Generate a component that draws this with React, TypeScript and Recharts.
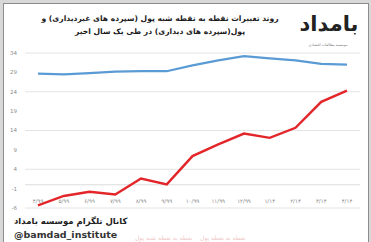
import { CartesianGrid, Line, LineChart, ReferenceLine, XAxis, YAxis } from "recharts";

// Months (Persian calendar), last 13 months
const months = [
  "۴/۹۹", "۵/۹۹", "۶/۹۹", "۷/۹۹", "۸/۹۹", "۹/۹۹", "۱۰/۹۹",
  "۱۱/۹۹", "۱۲/۹۹", "۱/۱۴", "۲/۱۴", "۳/۱۴", "۴/۱۴",
];
// point-to-point change, quasi-money (blue)
const quasiMoney = [28.7, 28.5, 28.8, 29.2, 29.3, 29.3, 30.8, 32.1, 33.2, 32.6, 32.1, 31.2, 31.0];
// point-to-point change, money (red)
const money = [-5.3, -2.9, -1.8, -2.5, 1.6, 0.1, 7.4, 10.4, 13.2, 12.1, 14.7, 21.4, 24.3];
const yTicks = [-6, -1, 4, 9, 14, 19, 24, 29, 34];

const data = months.map((m, i) => ({ month: m, quasi: quasiMoney[i], money: money[i] }));

const FA = "'DejaVu Sans', sans-serif";

function MonthTick(props: any) {
  const { x, y, payload } = props;
  return (
    <text x={x} y={y - 13} textAnchor="middle" fontSize={5.5} fill="#8a8a8a" fontFamily={FA}>
      {payload.value}
    </text>
  );
}

export default function App() {
  return (
    <div style={{ position: "absolute", left: 0, top: 0, width: 371, height: 242, background: "#d8d8d8", overflow: "hidden" }}>
      <div style={{ position: "absolute", left: 3, top: 3, width: 364, height: 250, border: "1px solid #8c8c8c", background: "#fff" }} />
      {/* title */}
      <div
        dir="rtl"
        style={{
          position: "absolute", left: 20, top: 12, width: 280, textAlign: "center", whiteSpace: "nowrap",
          fontFamily: FA, fontWeight: "bold", fontSize: 7.6, lineHeight: "13px", color: "#1a1a1a",
        }}
      >
        روند تغییرات نقطه به نقطه شبه پول (سپرده های غیردیداری) و
        <br />
        پول(سپرده های دیداری) در طی یک سال اخیر
      </div>
      {/* logo */}
      <div
        dir="rtl"
        style={{ position: "absolute", left: 296, top: 9, width: 66, textAlign: "center", fontFamily: FA, fontWeight: "bold", fontSize: 21, lineHeight: "30px", color: "#222", whiteSpace: "nowrap" }}
      >
        بامداد
      </div>
      <div dir="rtl" style={{ position: "absolute", left: 298, top: 43, width: 60, textAlign: "center", fontFamily: FA, fontSize: 3.5, color: "#777", whiteSpace: "nowrap" }}>
        موسسه مطالعات اقتصادی
      </div>

      <div style={{ position: "absolute", left: 0, top: 0 }}>
        <LineChart width={371} height={242} data={data} margin={{ top: 53, right: 11, bottom: 33, left: 0 }}>
          <CartesianGrid vertical={false} stroke="#e4e4e4" strokeWidth={1} />
          <XAxis
            dataKey="month"
            axisLine={false}
            tickLine={false}
            interval={0}
            padding={{ left: 13, right: 13 }}
            tick={<MonthTick />}
            height={1}
          />
          <YAxis
            width={25}
            domain={[-6, 34]}
            ticks={yTicks}
            axisLine={false}
            tickLine={false}
            tickSize={0}
            tickMargin={8}
            tick={{ fontSize: 5.5, fill: "#8a8a8a", fontFamily: "'DejaVu Sans', sans-serif" }}
          />
          <ReferenceLine y={0} stroke="#dcdcdc" strokeWidth={1} />
          <Line dataKey="quasi" stroke="#5b9bd5" strokeWidth={2.2} dot={false} isAnimationActive={false} />
          <Line dataKey="money" stroke="#e2262a" strokeWidth={2.4} dot={false} isAnimationActive={false} />
        </LineChart>
      </div>

      {/* footer */}
      <div dir="rtl" style={{ position: "absolute", left: 14, top: 216, fontFamily: FA, fontWeight: "bold", fontSize: 8.5, color: "#222", whiteSpace: "nowrap" }}>
        کانال تلگرام موسسه بامداد
      </div>
      <div style={{ position: "absolute", left: 14, top: 229, fontFamily: FA, fontWeight: "bold", fontSize: 9.5, color: "#333", whiteSpace: "nowrap" }}>
        @bamdad_institute
      </div>
      <div dir="rtl" style={{ position: "absolute", left: 135, top: 234, fontFamily: FA, fontSize: 6, color: "#f0c8c8", whiteSpace: "nowrap" }}>
        نقطه به نقطه پول &nbsp;&nbsp; نقطه به نقطه شبه پول
      </div>
    </div>
  );
}
